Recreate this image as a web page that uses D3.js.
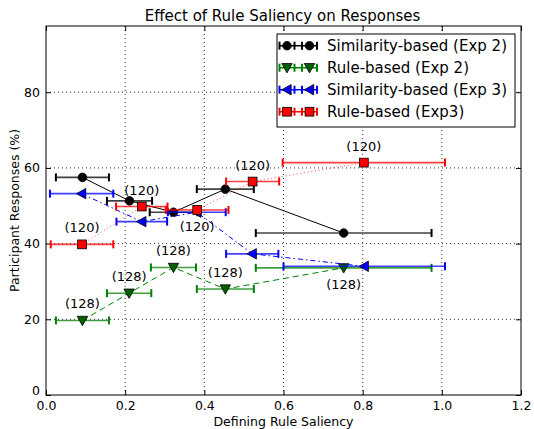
<!DOCTYPE html>
<html><head><meta charset="utf-8">
<script src="https://cdn.jsdelivr.net/npm/d3@7/dist/d3.min.js"></script>
<style>body{margin:0;background:#fff}svg{display:block;font-family:"DejaVu Sans",sans-serif}</style>
</head><body><svg id="c" width="534" height="429"></svg>
<script>
const xTicks = [0.0, 0.2, 0.4, 0.6, 0.8, 1.0, 1.2];
const yTicks = [0, 20, 40, 60, 80];

const xSim2 = [0.092, 0.211, 0.322, 0.453, 0.752];
const ySim2 = [57.5, 51.3, 48.3, 54.4, 42.8];
const eSim2 = [0.067, 0.057, 0.060, 0.072, 0.222];

const xRule2 = [0.092, 0.210, 0.322, 0.453, 0.752];
const yRule2 = [19.7, 26.9, 33.7, 28.0, 33.6];
const eRule2 = [0.067, 0.056, 0.057, 0.072, 0.222];

const xSim3 = [0.090, 0.242, 0.381, 0.521, 0.804];
const ySim3 = [53.2, 45.8, 48.3, 37.3, 34.0];
const eSim3 = [0.080, 0.064, 0.073, 0.066, 0.204];

const xRule3 = [0.091, 0.242, 0.382, 0.522, 0.803];
const yRule3 = [39.8, 49.8, 48.9, 56.4, 61.4];
const eRule3 = [0.079, 0.065, 0.079, 0.067, 0.205];

const labRule3 = ["(120)", "(120)", "(120)", "(120)", "(120)"];
const posRule3 = ["above", "above", "below", "above", "above"];
const labRule2 = ["(128)", "(128)", "(128)", "(128)", "(128)"];
const posRule2 = ["above", "above", "above", "above", "below"];

const series = [
  {name: "Similarity-based (Exp 2)", x: xSim2, y: ySim2, e: eSim2, color: "#000000", marker: "circle", dash: null},
  {name: "Rule-based (Exp 2)", x: xRule2, y: yRule2, e: eRule2, color: "#008000", marker: "tdown", dash: "6,4"},
  {name: "Similarity-based (Exp 3)", x: xSim3, y: ySim3, e: eSim3, color: "#0000ff", marker: "tleft", dash: "5,3,1.5,3"},
  {name: "Rule-based (Exp3)", x: xRule3, y: yRule3, e: eRule3, color: "#ff0000", marker: "square", dash: "1.2,2.5"}
];

const W = 534, H = 429;
const L = 46, R = 521, T = 26, B = 395;
const x = d3.scaleLinear().domain([0, 1.2]).range([L, R]);
const y = d3.scaleLinear().domain([0, 97.5]).range([B, T]);
const svg = d3.select("#c");

const g = svg.append("g");
xTicks.slice(1, -1).forEach(t => g.append("line").attr("x1", x(t)).attr("x2", x(t)).attr("y1", T).attr("y2", B)
  .attr("stroke", "#000").attr("stroke-width", 0.8).attr("stroke-dasharray", "1,3"));
yTicks.slice(1).forEach(t => g.append("line").attr("x1", L).attr("x2", R).attr("y1", y(t)).attr("y2", y(t))
  .attr("stroke", "#000").attr("stroke-width", 0.8).attr("stroke-dasharray", "1,3"));

const axB = d3.axisBottom(x).tickValues(xTicks).tickFormat(d3.format(".1f")).tickSizeInner(-5).tickSizeOuter(0).tickPadding(6);
const axT = d3.axisTop(x).tickValues(xTicks).tickFormat("").tickSizeInner(-5).tickSizeOuter(0);
const axL = d3.axisLeft(y).tickValues(yTicks).tickFormat(d3.format("d")).tickSizeInner(-5).tickSizeOuter(0).tickPadding(6);
const axR = d3.axisRight(y).tickValues(yTicks).tickFormat("").tickSizeInner(-5).tickSizeOuter(0);
function styleAx(sel) {
  sel.select(".domain").remove();
  sel.selectAll("text").attr("font-size", 12.5).attr("fill", "#000").attr("font-family", "DejaVu Sans");
  sel.selectAll("line").attr("stroke", "#000");
}
svg.append("g").attr("transform", `translate(0,${B})`).call(axB).call(styleAx);
svg.append("g").attr("transform", `translate(0,${T})`).call(axT).call(styleAx);
const gl = svg.append("g").attr("transform", `translate(${L},0)`).call(axL).call(styleAx);
gl.selectAll(".tick").filter(d => d === 0).select("text").attr("dy", "-0.05em");
svg.append("g").attr("transform", `translate(${R},0)`).call(axR).call(styleAx);

const plot = svg.append("g");

function drawMarker(sel, type, cx, cy, color) {
  if (type === "circle") {
    sel.append("circle").attr("cx", cx).attr("cy", cy).attr("r", 4.3).attr("fill", color).attr("stroke", "#000").attr("stroke-width", 0.8);
  } else if (type === "square") {
    sel.append("rect").attr("x", cx - 4.4).attr("y", cy - 4.4).attr("width", 8.8).attr("height", 8.8).attr("fill", color).attr("stroke", "#000").attr("stroke-width", 0.8);
  } else if (type === "tdown") {
    const s = 5.2;
    sel.append("path").attr("d", `M${cx - s},${cy - s * 0.8}L${cx + s},${cy - s * 0.8}L${cx},${cy + s}Z`).attr("fill", "#006000").attr("stroke", "#000").attr("stroke-width", 0.8);
  } else if (type === "tleft") {
    const s = 5.2;
    sel.append("path").attr("d", `M${cx + s * 0.8},${cy - s}L${cx + s * 0.8},${cy + s}L${cx - s},${cy}Z`).attr("fill", color).attr("stroke", "#000").attr("stroke-width", 0.8);
  }
}

series.forEach(s => {
  const pts = s.x.map((v, i) => [v, s.y[i], s.e[i]]);
  pts.forEach(p => {
    plot.append("line").attr("x1", x(p[0] - p[2])).attr("x2", x(p[0] + p[2])).attr("y1", y(p[1])).attr("y2", y(p[1]))
      .attr("stroke", s.color).attr("stroke-width", 1.6).attr("stroke-opacity", 0.75);
    [p[0] - p[2], p[0] + p[2]].forEach(cxv => plot.append("line").attr("x1", x(cxv)).attr("x2", x(cxv))
      .attr("y1", y(p[1]) - 4).attr("y2", y(p[1]) + 4).attr("stroke", s.color).attr("stroke-width", 2));
  });
  const line = d3.line().x(d => x(d[0])).y(d => y(d[1]));
  const ln = plot.append("path").attr("d", line(pts)).attr("fill", "none").attr("stroke", s.color).attr("stroke-width", 1);
  if (s.dash) ln.attr("stroke-dasharray", s.dash);
  if (s.marker === "square") ln.attr("stroke-opacity", 0.6);
  pts.forEach(p => drawMarker(plot, s.marker, x(p[0]), y(p[1]), s.color));
});

function annotate(xs, ys, labs, pos) {
  xs.forEach((v, i) => {
    const dy = pos[i] === "above" ? -12 : 21;
    svg.append("text").attr("x", x(v)).attr("y", y(ys[i]) + dy).attr("text-anchor", "middle")
      .attr("font-size", 13).attr("fill", "#000").text(labs[i]);
  });
}
annotate(xRule3, yRule3, labRule3, posRule3);
annotate(xRule2, yRule2, labRule2, posRule2);

svg.append("rect").attr("x", L).attr("y", T).attr("width", R - L).attr("height", B - T).attr("fill", "none").attr("stroke", "#000").attr("stroke-width", 1);

svg.append("text").attr("x", (L + R) / 2 - 1).attr("y", 21).attr("text-anchor", "middle").attr("font-size", 15).text("Effect of Rule Saliency on Responses");
svg.append("text").attr("x", (L + R) / 2).attr("y", 425.5).attr("text-anchor", "middle").attr("font-size", 12.5).text("Defining Rule Saliency");
svg.append("text").attr("transform", `translate(19,${(T + B) / 2}) rotate(-90)`).attr("text-anchor", "middle").attr("font-size", 12.5).text("Participant Responses (%)");

const lg = svg.append("g");
lg.append("rect").attr("x", 277).attr("y", 34).attr("width", 238).attr("height", 93).attr("fill", "#fff").attr("stroke", "#000").attr("stroke-width", 1);
series.forEach((s, i) => {
  const cy = 45.7 + i * 22;
  lg.append("line").attr("x1", 279.5).attr("x2", 318).attr("y1", cy).attr("y2", cy).attr("stroke", s.color).attr("stroke-width", 1.6);
  [287, 309.5].forEach(mx => {
    [mx - 7.5, mx + 7.5].forEach(cx => lg.append("line").attr("x1", cx).attr("x2", cx).attr("y1", cy - 4).attr("y2", cy + 4).attr("stroke", s.color).attr("stroke-width", 2));
    drawMarker(lg, s.marker, mx, cy, s.color);
  });
  lg.append("text").attr("x", 327).attr("y", cy + 5.5).attr("font-size", 15).text(s.name);
});
</script></body></html>
